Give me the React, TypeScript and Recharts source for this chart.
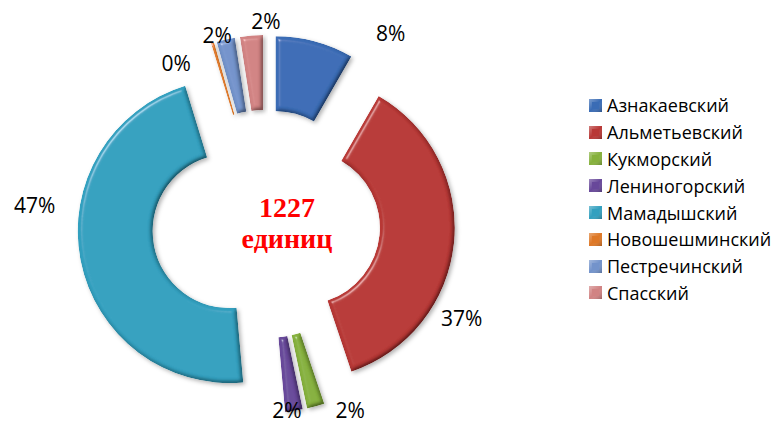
import React from 'react';
import { PieChart, Pie, Sector, Legend } from 'recharts';

const districts = [
  'Азнакаевский',
  'Альметьевский',
  'Кукморский',
  'Лениногорский',
  'Мамадышский',
  'Новошешминский',
  'Пестречинский',
  'Спасский',
];
const units = [102, 448, 23, 23, 573, 4, 24, 30];
const colors = ['#3A6CB5', '#B83836', '#86B13D', '#68489A', '#33A0BF', '#DE7826', '#7393CB', '#D18383'];
const totalLabel = ['1227', 'единиц'];

const data = districts.map((name, i) => ({ name, value: units[i] }));

// label layout: angular shift (deg, clockwise) and distance from chart centre
const labelShift = [18.2, 20.0, -9.1, 2.1, 15.8, -12.8, -2.2, 4.4];
const labelDist = [228, 217, 204, 187, 232, 184, 195, 203];

const EXPLODE = 37;
const RAD = Math.PI / 180;

const renderSlice = (props: any) => {
  const { cx, cy, midAngle, innerRadius, outerRadius, startAngle, endAngle, index, percent } = props;
  const ox = cx + EXPLODE * Math.cos(-midAngle * RAD);
  const oy = cy + EXPLODE * Math.sin(-midAngle * RAD);
  const la = midAngle - labelShift[index];
  const lx = cx + labelDist[index] * Math.cos(-la * RAD);
  const ly = cy + labelDist[index] * Math.sin(-la * RAD);
  return (
    <g key={`s-${index}`}>
      <g filter="url(#shadow)">
        <Sector
          cx={ox}
          cy={oy}
          innerRadius={innerRadius}
          outerRadius={outerRadius}
          startAngle={startAngle}
          endAngle={endAngle}
          fill={colors[index]}
          stroke="none"
          filter="url(#bevel)"
        />
      </g>
      <text
        x={lx}
        y={ly}
        textAnchor="middle"
        dominantBaseline="central"
        fontFamily="'Open Sans', sans-serif"
        fontSize={21}
        fill="#000"
      >
        {`${Math.round(percent * 100)}%`}
      </text>
    </g>
  );
};

const renderLegend = () => (
  <div style={{ fontFamily: "'Open Sans', sans-serif", fontSize: 18, color: '#000' }}>
    {districts.map((d, i) => (
      <div key={d} style={{ display: 'flex', alignItems: 'center', height: 26.8, whiteSpace: 'nowrap' }}>
        <svg width={13} height={13} style={{ marginRight: 5 }}>
          <defs>
            <linearGradient id={`lg${i}`} x1="0" y1="0" x2="1" y2="1">
              <stop offset="0" stopColor="#ffffff" stopOpacity="0.35" />
              <stop offset="0.5" stopColor="#ffffff" stopOpacity="0" />
              <stop offset="1" stopColor="#000000" stopOpacity="0.25" />
            </linearGradient>
          </defs>
          <rect x={0} y={0} width={13} height={13} fill={colors[i]} />
          <rect x={0} y={0} width={13} height={13} fill={`url(#lg${i})`} />
          <rect x={3} y={3} width={7} height={7} fill={colors[i]} />
        </svg>
        <span>{d}</span>
      </div>
    ))}
  </div>
);

export default function App() {
  return (
    <div style={{ position: 'absolute', left: 0, top: 0, width: 776, height: 423, background: '#fff' }}>
      <PieChart width={776} height={423} margin={{ top: 0, right: 0, bottom: 0, left: 0 }}>
        <defs>
          <filter id="bevel" x="-20%" y="-20%" width="140%" height="140%">
            <feGaussianBlur in="SourceAlpha" stdDeviation="2.2" result="blur" />
            <feDiffuseLighting in="blur" surfaceScale="3" diffuseConstant="1.155" lightingColor="#ffffff" result="diff">
              <feDistantLight azimuth="225" elevation="60" />
            </feDiffuseLighting>
            <feComposite in="SourceGraphic" in2="diff" operator="arithmetic" k1="1" k2="0" k3="0" k4="0" result="lit" />
            <feSpecularLighting in="blur" surfaceScale="3" specularConstant="0.35" specularExponent="60" lightingColor="#ffffff" result="spec">
              <feDistantLight azimuth="225" elevation="50" />
            </feSpecularLighting>
            <feComposite in="spec" in2="SourceAlpha" operator="in" result="specIn" />
            <feComposite in="lit" in2="specIn" operator="arithmetic" k1="0" k2="1" k3="1" k4="0" result="sum" />
            <feComposite in="sum" in2="SourceAlpha" operator="in" />
          </filter>
          <filter id="shadow" x="-20%" y="-20%" width="140%" height="140%">
            <feDropShadow dx="2" dy="2" stdDeviation="2" floodColor="#000" floodOpacity="0.3" />
          </filter>
        </defs>
        <Pie
          data={data}
          dataKey="value"
          nameKey="name"
          cx={266}
          cy={224}
          innerRadius={77}
          outerRadius={152}
          startAngle={90}
          endAngle={-270}
          fill="none"
          stroke="none"
          label={renderSlice}
          labelLine={false}
          isAnimationActive={false}
        />
        <Legend
          content={renderLegend}
          wrapperStyle={{ position: 'absolute', left: 589, top: 92, width: 187 }}
        />
        <text
          x={287}
          y={217}
          textAnchor="middle"
          fontFamily="'Liberation Serif', serif"
          fontWeight="bold"
          fontSize={28}
          fill="#FF0000"
        >
          {totalLabel[0]}
        </text>
        <text
          x={287}
          y={248}
          textAnchor="middle"
          fontFamily="'Liberation Serif', serif"
          fontWeight="bold"
          fontSize={28}
          fill="#FF0000"
        >
          {totalLabel[1]}
        </text>
      </PieChart>
    </div>
  );
}
